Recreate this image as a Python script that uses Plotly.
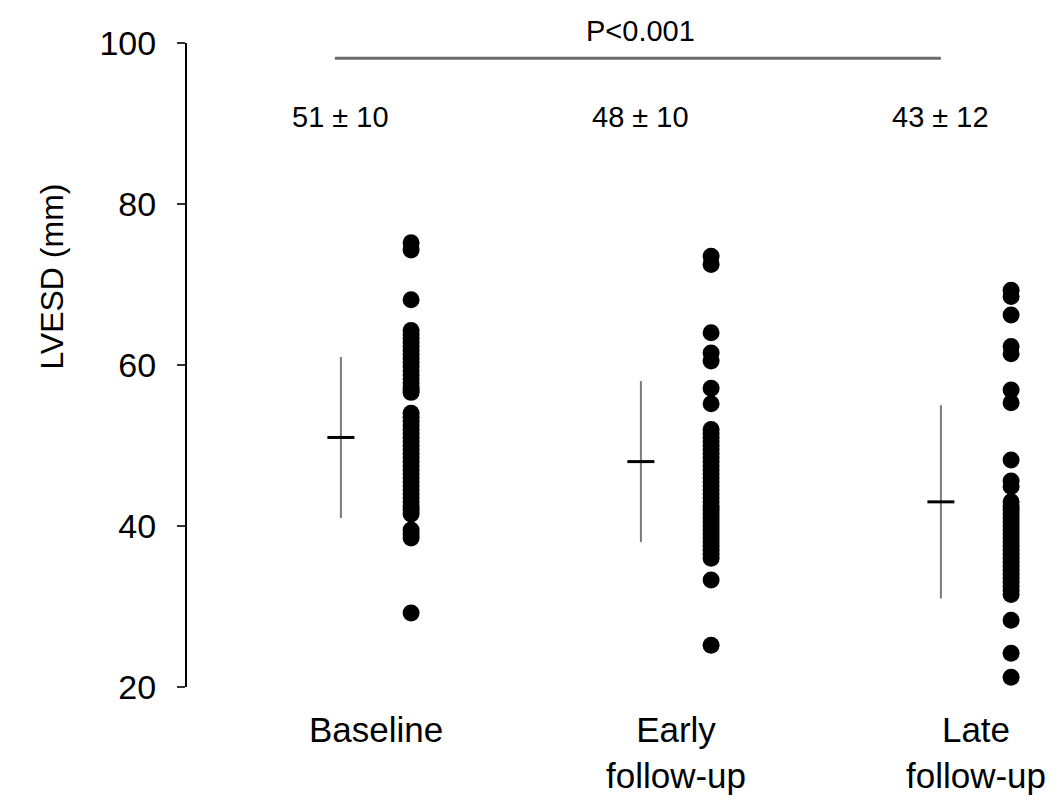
import plotly.graph_objects as go

categories = ["Baseline", "Early<br>follow-up", "Late<br>follow-up"]
summary_text = ["51 ± 10", "48 ± 10", "43 ± 12"]
means = [51, 48, 43]
sds = [10, 10, 12]
p_text = "P<0.001"

baseline = [75.2, 74.3, 68.1,
            64.3, 63.8, 63.3, 62.8, 62.3, 61.8, 61.3, 60.8, 60.3, 59.8, 59.3,
            58.8, 58.3, 57.8, 57.3, 56.9, 56.6,
            54.0, 53.5, 53.0, 52.5, 52.0, 51.5, 51.0, 50.5, 50.0, 49.5, 49.0,
            48.5, 48.0, 47.5, 47.0, 46.5, 46.0, 45.5, 45.0, 44.5, 44.0, 43.5,
            43.0, 42.5, 42.0, 41.5, 39.5, 39.0, 38.5, 29.2]
early = [73.5, 72.5, 64.0, 61.5, 60.5, 57.1, 55.2,
         52.0, 51.5, 51.0, 50.5, 50.0, 49.5, 49.0, 48.5, 48.0, 47.5, 47.0,
         46.5, 46.0, 45.5, 45.0, 44.5, 44.0, 43.5, 43.0, 42.5, 42.0, 41.5,
         41.0, 40.5, 40.0, 39.5, 39.0, 38.5, 38.0, 37.5, 37.0, 36.5, 36.0,
         33.3, 25.2]
late = [69.3, 68.5, 66.2, 62.3, 61.4, 56.9, 55.3, 48.2, 45.6, 44.9,
        43.0, 42.5, 42.0, 41.5, 41.0, 40.5, 40.0, 39.5, 39.0, 38.5, 38.0,
        37.5, 37.0, 36.5, 36.0, 35.5, 35.0, 34.5, 34.0, 33.5, 33.0, 32.5,
        32.0, 31.5, 28.3, 24.2, 21.2]
groups = [baseline, early, late]

FONT = "Liberation Sans, Arial, sans-serif"
DOT_OFF = 0.117
SD_OFF = -0.117
TICK_HALF = 0.045

fig = go.Figure()

for i, vals in enumerate(groups):
    fig.add_trace(go.Scatter(
        x=[i + DOT_OFF] * len(vals), y=vals, mode="markers",
        marker=dict(color="black", size=17, line=dict(width=0)),
        showlegend=False, hoverinfo="y"))
    # SD line
    fig.add_trace(go.Scatter(
        x=[i + SD_OFF, i + SD_OFF], y=[means[i] - sds[i], means[i] + sds[i]],
        mode="lines", line=dict(color="#7a7a7a", width=2),
        showlegend=False, hoverinfo="skip"))
    # mean tick
    fig.add_trace(go.Scatter(
        x=[i + SD_OFF - TICK_HALF, i + SD_OFF + TICK_HALF], y=[means[i], means[i]],
        mode="lines", line=dict(color="black", width=3),
        showlegend=False, hoverinfo="skip"))
    fig.add_annotation(x=i + SD_OFF, y=90.8, text=summary_text[i], showarrow=False,
                       font=dict(family=FONT, size=29, color="black"),
                       xanchor="center", yanchor="middle")

# P-value bracket line
fig.add_trace(go.Scatter(
    x=[0 + SD_OFF - 0.02, 2 + SD_OFF], y=[98.1, 98.1], mode="lines",
    line=dict(color="#6b6b6b", width=3), showlegend=False, hoverinfo="skip",
    cliponaxis=False))
fig.add_annotation(x=1 + SD_OFF, xref="x", yref="paper", y=1.019, text=p_text,
                   showarrow=False,
                   font=dict(family=FONT, size=29, color="black"),
                   xanchor="center", yanchor="middle")

fig.add_annotation(xref="paper", yref="y", x=-0.155, y=71, text="LVESD (mm)",
                   textangle=-90, showarrow=False,
                   font=dict(family=FONT, size=32, color="black"),
                   xanchor="center", yanchor="middle")

fig.update_layout(
    width=1057, height=800,
    margin=dict(l=187, r=0, t=43, b=113, autoexpand=False),
    paper_bgcolor="white", plot_bgcolor="white",
    xaxis=dict(range=[-0.63, 2.27], tickmode="array", tickvals=[0, 1, 2],
               ticktext=categories, showgrid=False, zeroline=False,
               showline=False, ticks="", ticklabelstandoff=19,
               tickfont=dict(family=FONT, size=35, color="black")),
    yaxis=dict(range=[20, 100], tickmode="array", tickvals=[20, 40, 60, 80, 100],
               showgrid=False, zeroline=False, showline=True, linecolor="black",
               linewidth=2, ticks="outside", ticklen=8, tickwidth=2,
               tickcolor="#333", ticklabelstandoff=14,
               tickfont=dict(family=FONT, size=34, color="black")),
)

fig.write_html("out.html")
